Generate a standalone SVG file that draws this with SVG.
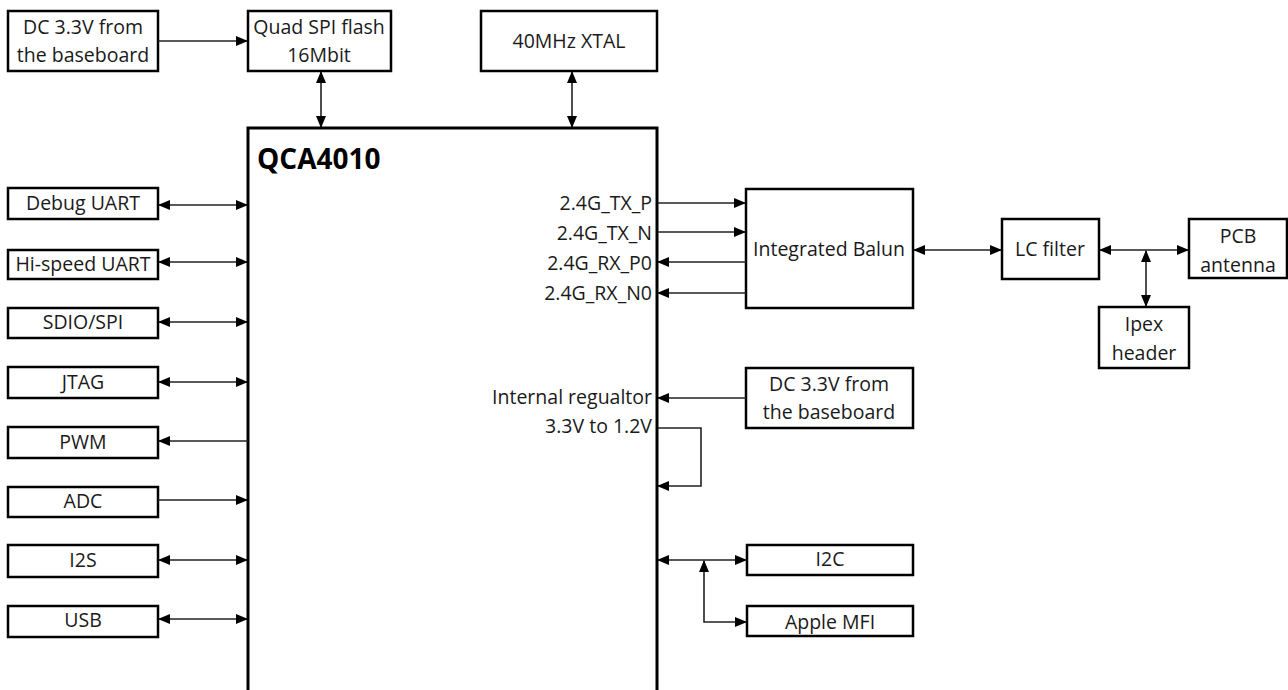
<svg xmlns="http://www.w3.org/2000/svg" width="1288" height="690" viewBox="0 0 1288 690">
<style>
.box{fill:#fff;stroke:#000;stroke-width:2.5}
.main{fill:#fff;stroke:#000;stroke-width:3}
text{font-family:"Open Sans","Liberation Sans",Arial,sans-serif;font-size:19.5px;fill:#1a1a1a}
.c{text-anchor:middle}
.r{text-anchor:end}
.t{font-weight:bold;font-size:28px;fill:#000}
.ln{fill:none;stroke:#222;stroke-width:1.6}
</style>
<defs>
<marker id="a" markerUnits="userSpaceOnUse" markerWidth="12" markerHeight="10" refX="11" refY="5" orient="auto-start-reverse" viewBox="0 0 12 10">
<path d="M0,0 L12,5 L0,10 z" fill="#000"/>
</marker>
</defs>
<rect x="0" y="0" width="1288" height="690" fill="#fff"/>
<g id="qca4010"><rect class="main" x="248" y="128" width="409" height="600"/><text class="t" x="257" y="169">QCA4010</text>
<text class="r" x="652" y="210">2.4G_TX_P</text>
<text class="r" x="652" y="240">2.4G_TX_N</text>
<text class="r" x="652" y="270">2.4G_RX_P0</text>
<text class="r" x="652" y="300">2.4G_RX_N0</text>
<text class="r" x="652" y="404">Internal regualtor</text>
<text class="r" x="652" y="433">3.3V to 1.2V</text>
</g>
<g id="dc1"><rect class="box" x="8" y="11" width="150" height="60"/><text class="c" x="83" y="34">DC 3.3V from</text><text class="c" x="83" y="62">the baseboard</text></g>
<g id="flash"><rect class="box" x="248" y="11" width="143" height="60"/><text class="c" x="319" y="34">Quad SPI flash</text><text class="c" x="319" y="62">16Mbit</text></g>
<g id="xtal"><rect class="box" x="481" y="11" width="176" height="60"/><text class="c" x="569" y="48">40MHz XTAL</text></g>
<g id="debug"><rect class="box" x="8" y="188" width="150" height="31"/><text class="c" x="83" y="210">Debug UART</text></g>
<g id="hsuart"><rect class="box" x="8" y="250" width="150" height="29"/><text class="c" x="83" y="271">Hi-speed UART</text></g>
<g id="sdio"><rect class="box" x="8" y="308" width="150" height="30"/><text class="c" x="83" y="329">SDIO/SPI</text></g>
<g id="jtag"><rect class="box" x="8" y="367" width="150" height="31"/><text class="c" x="83" y="389">JTAG</text></g>
<g id="pwm"><rect class="box" x="8" y="427" width="150" height="31"/><text class="c" x="83" y="449">PWM</text></g>
<g id="adc"><rect class="box" x="8" y="487" width="150" height="30"/><text class="c" x="83" y="508">ADC</text></g>
<g id="i2s"><rect class="box" x="8" y="545" width="150" height="32"/><text class="c" x="83" y="567">I2S</text></g>
<g id="usb"><rect class="box" x="8" y="606" width="150" height="31"/><text class="c" x="83" y="627">USB</text></g>
<g id="balun"><rect class="box" x="746" y="189" width="167" height="119"/><text class="c" x="829" y="256">Integrated Balun</text></g>
<g id="lc"><rect class="box" x="1002" y="219" width="97" height="60"/><text class="c" x="1050" y="256">LC filter</text></g>
<g id="pcb"><rect class="box" x="1189" y="219" width="98" height="59"/><text class="c" x="1238" y="243">PCB</text><text class="c" x="1238" y="272">antenna</text></g>
<g id="ipex"><rect class="box" x="1099" y="307" width="90" height="61"/><text class="c" x="1144" y="331">Ipex</text><text class="c" x="1144" y="360">header</text></g>
<g id="dc2"><rect class="box" x="746" y="368" width="167" height="60"/><text class="c" x="829" y="391">DC 3.3V from</text><text class="c" x="829" y="419">the baseboard</text></g>
<g id="i2c"><rect class="box" x="747" y="545" width="166" height="30"/><text class="c" x="830" y="566">I2C</text></g>
<g id="mfi"><rect class="box" x="747" y="606" width="166" height="30"/><text class="c" x="830" y="629">Apple MFI</text></g>
<g id="connectors">
<line class="ln" x1="158" y1="41" x2="247" y2="41" marker-end="url(#a)"/>
<line class="ln" x1="321" y1="72" x2="321" y2="127" marker-start="url(#a)" marker-end="url(#a)"/>
<line class="ln" x1="572" y1="72" x2="572" y2="127" marker-start="url(#a)" marker-end="url(#a)"/>
<line class="ln" x1="159" y1="205" x2="247" y2="205" marker-start="url(#a)" marker-end="url(#a)"/>
<line class="ln" x1="159" y1="262" x2="247" y2="262" marker-start="url(#a)" marker-end="url(#a)"/>
<line class="ln" x1="159" y1="322" x2="247" y2="322" marker-start="url(#a)" marker-end="url(#a)"/>
<line class="ln" x1="159" y1="382" x2="247" y2="382" marker-start="url(#a)" marker-end="url(#a)"/>
<line class="ln" x1="248" y1="441" x2="159" y2="441" marker-end="url(#a)"/>
<line class="ln" x1="158" y1="500" x2="247" y2="500" marker-end="url(#a)"/>
<line class="ln" x1="159" y1="560" x2="247" y2="560" marker-start="url(#a)" marker-end="url(#a)"/>
<line class="ln" x1="159" y1="619" x2="247" y2="619" marker-start="url(#a)" marker-end="url(#a)"/>
<line class="ln" x1="658" y1="203" x2="745" y2="203" marker-end="url(#a)"/>
<line class="ln" x1="658" y1="232" x2="745" y2="232" marker-end="url(#a)"/>
<line class="ln" x1="746" y1="262" x2="658" y2="262" marker-end="url(#a)"/>
<line class="ln" x1="746" y1="293" x2="658" y2="293" marker-end="url(#a)"/>
<line class="ln" x1="914" y1="250" x2="1001" y2="250" marker-start="url(#a)" marker-end="url(#a)"/>
<line class="ln" x1="1100" y1="250" x2="1188" y2="250" marker-start="url(#a)" marker-end="url(#a)"/>
<line class="ln" x1="1146" y1="251" x2="1146" y2="306" marker-start="url(#a)" marker-end="url(#a)"/>
<line class="ln" x1="746" y1="398" x2="658" y2="398" marker-end="url(#a)"/>
<polyline class="ln" points="658,428 701,428 701,486 658,486" marker-end="url(#a)"/>
<line class="ln" x1="658" y1="560" x2="746" y2="560" marker-start="url(#a)" marker-end="url(#a)"/>
<polyline class="ln" points="704,561 704,622 746,622" marker-start="url(#a)" marker-end="url(#a)"/>
</g>
</svg>
